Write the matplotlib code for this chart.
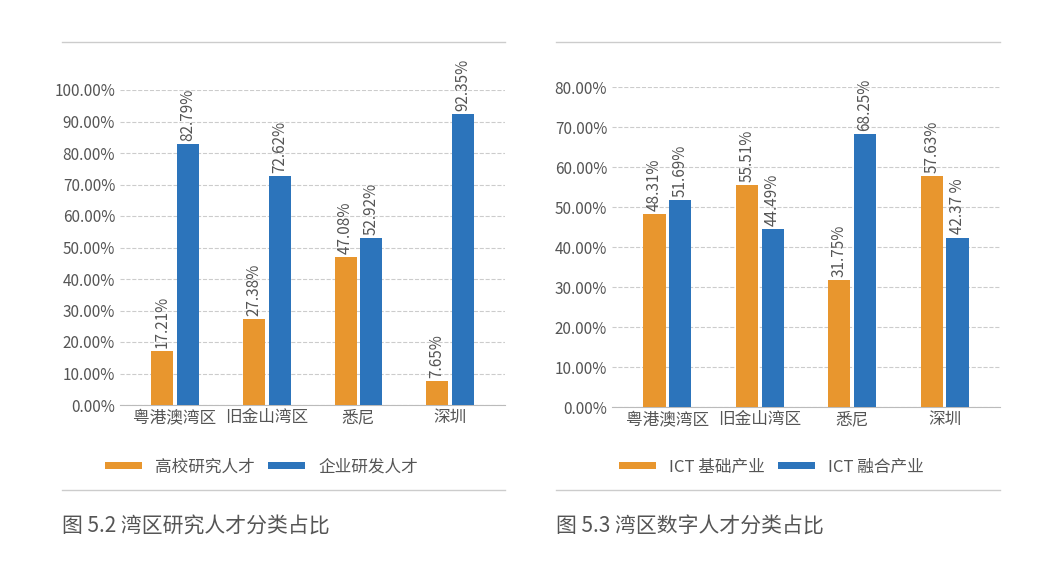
import matplotlib
matplotlib.use("Agg")
import matplotlib.pyplot as plt
import numpy as np

plt.rcParams["font.family"] = ["Noto Sans CJK SC", "DejaVu Sans"]

# data
regions = ["粤港澳湾区", "旧金山湾区", "悉尼", "深圳"]
univ_talent = [17.21, 27.38, 47.08, 7.65]
corp_talent = [82.79, 72.62, 52.92, 92.35]
univ_labels = ["17.21%", "27.38%", "47.08%", "7.65%"]
corp_labels = ["82.79%", "72.62%", "52.92%", "92.35%"]

ict_base = [48.31, 55.51, 31.75, 57.63]
ict_fusion = [51.69, 44.49, 68.25, 42.37]
base_labels = ["48.31%", "55.51%", "31.75%", "57.63%"]
fusion_labels = ["51.69%", "44.49%", "68.25%", "42.37 %"]

ORANGE = "#E8962E"
BLUE = "#2C74BB"
GRAY = "#555555"

fig = plt.figure(figsize=(10.58, 5.76), dpi=100)


def panel(rect, a, b, la, lb, ymax, names, caption, lx):
    ax = fig.add_axes(rect)
    x = np.arange(len(regions))
    w = 0.24
    ax.bar(x - w / 2 - 0.02, a, w, color=ORANGE, label=names[0], zorder=3)
    ax.bar(x + w / 2 + 0.02, b, w, color=BLUE, label=names[1], zorder=3)
    for xi, v, t in zip(x - w / 2 - 0.02, a, la):
        ax.text(xi, v + ymax * 0.01, t, rotation=90, ha="center", va="bottom",
                fontsize=11, color=GRAY)
    for xi, v, t in zip(x + w / 2 + 0.02, b, lb):
        ax.text(xi, v + ymax * 0.01, t, rotation=90, ha="center", va="bottom",
                fontsize=11, color=GRAY)
    ax.set_xlim(-0.6, len(regions) - 0.4)
    ax.set_ylim(0, ymax)
    ax.set_yticks(np.arange(0, ymax + 0.01, 10))
    ax.set_yticklabels(["%.2f%%" % t for t in np.arange(0, ymax + 0.01, 10)])
    ax.set_xticks(x)
    ax.set_xticklabels(regions, fontsize=12)
    ax.tick_params(length=0, colors=GRAY, labelsize=11)
    ax.tick_params(axis="x", labelsize=12, pad=3)
    ax.grid(axis="y", ls="--", color="#cccccc", lw=0.8, zorder=0)
    for s in ["top", "right", "left"]:
        ax.spines[s].set_visible(False)
    ax.spines["bottom"].set_color("#bbbbbb")
    fig.legend(loc="center left", bbox_to_anchor=(lx, 1 - 467 / 576),
               ncol=2, frameon=False, fontsize=12, handlelength=2.2,
               handleheight=0.35, columnspacing=0.8, labelcolor=GRAY,
               handles=ax.get_legend_handles_labels()[0])
    return ax


panel([120 / 1058, 1 - 405 / 576, 385 / 1058, 315 / 576], univ_talent, corp_talent,
      univ_labels, corp_labels, 100, ["高校研究人才", "企业研发人才"],
      "图 5.2 湾区研究人才分类占比", 90 / 1058)
panel([612 / 1058, 1 - 407 / 576, 388 / 1058, 320 / 576], ict_base, ict_fusion,
      base_labels, fusion_labels, 80, ["ICT 基础产业", "ICT 融合产业"],
      "图 5.3 湾区数字人才分类占比", 604 / 1058)

for x0, x1 in [(62, 505), (556, 1000)]:
    for y in [42, 490]:
        fig.add_artist(plt.Line2D([x0 / 1058, x1 / 1058], [1 - y / 576] * 2,
                                  color="#cccccc", lw=1))
fig.text(62 / 1058, 1 - 527 / 576, "图 5.2 湾区研究人才分类占比", fontsize=15,
         color=GRAY, va="center")
fig.text(556 / 1058, 1 - 527 / 576, "图 5.3 湾区数字人才分类占比", fontsize=15,
         color=GRAY, va="center")

fig.savefig("out.png", dpi=100)
